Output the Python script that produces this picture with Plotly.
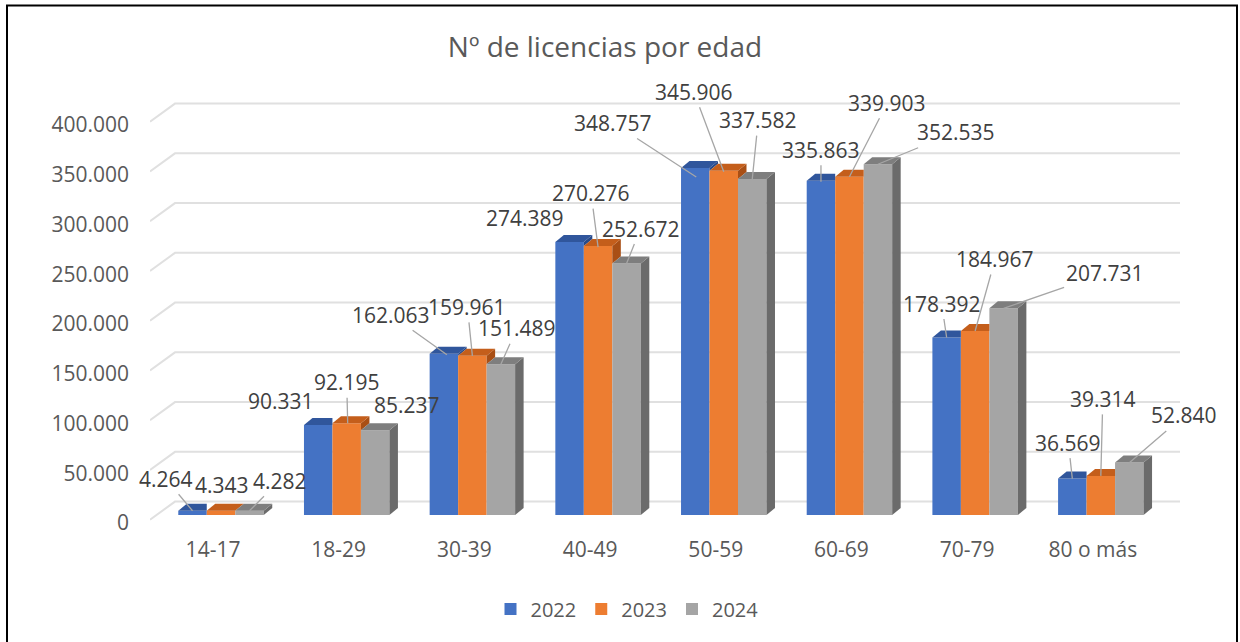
import plotly.graph_objects as go

# ---------------- data ----------------
categories = ["14-17", "18-29", "30-39", "40-49", "50-59", "60-69", "70-79", "80 o más"]
years = ["2022", "2023", "2024"]
v2022 = [4264, 90331, 162063, 274389, 348757, 335863, 178392, 36569]
v2023 = [4343, 92195, 159961, 270276, 345906, 339903, 184967, 39314]
v2024 = [4282, 85237, 151489, 252672, 337582, 352535, 207731, 52840]
tick_values = [0, 50000, 100000, 150000, 200000, 250000, 300000, 350000, 400000]
title_text = "Nº de licencias por edad"

# ---------------- styles / layout constants ----------------
front_colors = ["#4472C4", "#ED7D31", "#A5A5A5"]
top_colors = ["#30569C", "#C45E1B", "#7E7E7E"]
side_colors = ["#284A88", "#A94F15", "#6B6B6B"]
text_dark = "#404040"
text_axis = "#595959"
FONT = "Open Sans"

W, H = 1240, 642
PL, PR, PT, PB = 150, 1180, 95, 530          # plot area in pixels
XR = [-0.565, 7.63]
YR = [-15075, 422111]
BARGAP = 0.32

px_x = (XR[1] - XR[0]) / (PR - PL)            # data units per pixel (x)
px_y = (YR[1] - YR[0]) / (PB - PT)            # data units per pixel (y)
DX, DY = 8.5 * px_x, 7 * px_y                 # bar depth
GDX, GDY_BACK, GDY_FRONT = 25 * px_x, 13.4 * px_y, -4.7 * px_y  # wall depth

# label placement: (tip dx, tip dy, text ax, text ay, arrow?) in pixels
label_pos = [
    [(0, 0, -27, -32, True), (-37, -24, 0, 0, False), (3, 1, -56, -40, True), (-45, -24, 0, 0, False),
     (1, 9, -83, -54, True), (0, 1, 0, -32, True), (0, 0, -5, -34, True), (0, 0, -4, -36, True)],
    [(1, -26, 0, 0, False), (1, 0, -1, -41, True), (0, 0, -5, -49, True), (0, 1, -7, -54, True),
     (0, 1, -30, -80, True), (0, 0, 38, -74, True), (0, 0, 20, -72, True), (0, 0, 2, -77, True)],
    [(0, 0, 30, -30, True), (32, -25, 0, 0, False), (0, 0, 16, -36, True), (0, 0, 14, -35, True),
     (0, 0, 6, -59, True), (0, 0, 78, -32, True), (0, 0, 101, -35, True), (-2, 2, 57, -49, True)],
]


def fmt(v):
    return f"{v:,}".replace(",", ".")


series = [v2022, v2023, v2024]
xpos = list(range(len(categories)))

fig = go.Figure()
for k, (name, vals) in enumerate(zip(years, series)):
    fig.add_trace(go.Bar(x=xpos, y=vals, name=name, marker=dict(color=front_colors[k], line=dict(width=0)),
                         hovertemplate="%{customdata}: %{y:,}<extra>" + name + "</extra>",
                         customdata=categories))

shapes = []
# back wall gridlines with perspective edge
for t in tick_values:
    path = (f"M{XR[0]},{t + GDY_FRONT} L{XR[0] + GDX},{t + GDY_BACK} L{XR[1]},{t + GDY_BACK}")
    shapes.append(dict(type="path", path=path, xref="x", yref="y", layer="below",
                       line=dict(color="#E0E0E0", width=2)))


def poly(pts):
    return "M" + " L".join(f"{x},{y}" for x, y in pts) + " Z"


bw = (1 - BARGAP) / 3
for i in xpos:
    vals = [s[i] for s in series]
    for k in range(3):
        x0 = i - (1 - BARGAP) / 2 + k * bw
        x1 = x0 + bw
        v = vals[k]
        nxt = vals[k + 1] if k < 2 else None
        if nxt is None:
            shapes.append(dict(type="path", path=poly([(x1, 0), (x1 + DX, DY), (x1 + DX, v + DY), (x1, v)]),
                               xref="x", yref="y", fillcolor=side_colors[k], line=dict(width=0), layer="above"))
        elif nxt < v:
            shapes.append(dict(type="path", path=poly([(x1, nxt), (x1 + DX, nxt + DY), (x1 + DX, v + DY), (x1, v)]),
                               xref="x", yref="y", fillcolor=side_colors[k], line=dict(width=0), layer="above"))
        if nxt is not None and nxt > v:
            pts = [(x0, v), (x0 + DX, v + DY), (x1, v + DY), (x1, v)]
        else:
            pts = [(x0, v), (x0 + DX, v + DY), (x1 + DX, v + DY), (x1, v)]
        shapes.append(dict(type="path", path=poly(pts), xref="x", yref="y",
                           fillcolor=top_colors[k], line=dict(width=0), layer="above"))

# outer chart border
shapes.append(dict(type="rect", xref="paper", yref="paper",
                   x0=(7 - PL) / (PR - PL), x1=(1237 - PL) / (PR - PL),
                   y0=(PB - 660) / (PB - PT), y1=(PB - 5.5) / (PB - PT),
                   line=dict(color="#000000", width=2), layer="above"))

annotations = []
for k in range(3):
    for i in xpos:
        v = series[k][i]
        cx = i - (1 - BARGAP) / 2 + (k + 0.5) * bw
        tdx, tdy, ax, ay, arrow = label_pos[k][i]
        a = dict(x=cx, y=v, xref="x", yref="y", text=fmt(v),
                 font=dict(family=FONT, size=21, color=text_dark),
                 xshift=tdx, yshift=-tdy)
        if arrow:
            a.update(showarrow=True, ax=ax, ay=ay, arrowhead=0, arrowwidth=1.3,
                     arrowcolor="#A6A6A6", standoff=0, startstandoff=0)
        else:
            a.update(showarrow=False)
        annotations.append(a)

fig.update_layout(
    width=W, height=H,
    margin=dict(l=PL, r=W - PR, t=PT, b=H - PB, pad=0),
    paper_bgcolor="white", plot_bgcolor="white",
    barmode="group", bargap=BARGAP, bargroupgap=0,
    font=dict(family=FONT, color=text_axis),
    title=dict(text=title_text, x=(605 - PL) / (PR - PL), xref="paper", xanchor="center",
               y=1 - 47 / H, yref="container", yanchor="middle",
               font=dict(family=FONT, size=28, color=text_axis)),
    xaxis=dict(range=XR, tickmode="array", tickvals=xpos, ticktext=categories,
               showgrid=False, zeroline=False, showline=False, ticks="",
               tickfont=dict(family=FONT, size=21, color=text_axis),
               ticklabelshift=-8, ticklabelstandoff=5, fixedrange=True),
    yaxis=dict(range=YR, tickmode="array", tickvals=tick_values, ticktext=[fmt(t) for t in tick_values],
               showgrid=False, zeroline=False, showline=False, ticks="",
               tickfont=dict(family=FONT, size=21, color=text_axis),
               ticklabelshift=8, ticklabelstandoff=20, fixedrange=True),
    legend=dict(orientation="h", x=(627 - PL) / (PR - PL), xanchor="center",
                y=(PB - 609) / (PB - PT), yanchor="middle",
                font=dict(family=FONT, size=20, color=text_axis), bgcolor="rgba(0,0,0,0)"),
    shapes=shapes, annotations=annotations,
)

fig.write_html("out.html", config={"displayModeBar": False},
               post_script="document.body.style.margin='0';")
